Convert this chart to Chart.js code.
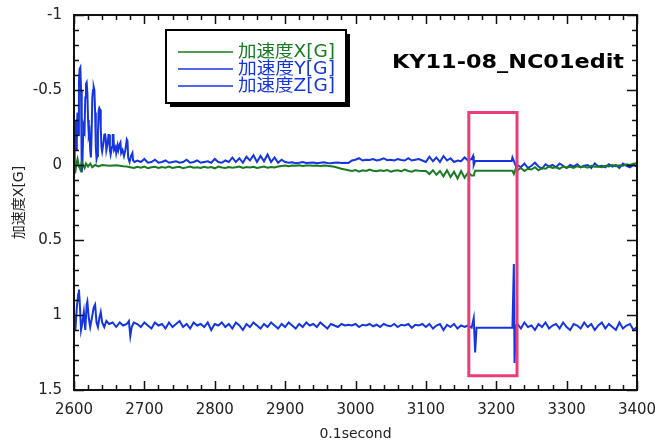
<!DOCTYPE html>
<html><head><meta charset="utf-8">
<script src="https://cdn.jsdelivr.net/npm/chart.js@4/dist/chart.umd.min.js"></script>
<style>html,body{margin:0;padding:0;background:#fff}#wrap{width:658px;height:443px}</style>
</head><body><div id="wrap"><canvas id="c" width="658" height="443"></canvas></div>
<script>
// ---------- DATA ----------
const seriesNames = ['加速度X[G]', '加速度Y[G]', '加速度Z[G]'];
const chartTitle = 'KY11-08_NC01edit';
const xTicks = [2600, 2700, 2800, 2900, 3000, 3100, 3200, 3300, 3400];
const yTicks = [-1, -0.5, 0, 0.5, 1, 1.5];
const highlightX = [3161, 3229.5];
const highlightY = [-0.35, 1.405];

// X series (green)
const accXEarlyT = [2600,2602,2604,2605,2607,2609,2611,2613,2615,2617,2620,2623,2626,2630,2635,2640,2650,2660,2670];
const accXEarlyV = [0.02,0.04,-0.02,-0.04,0.01,0.03,-0.02,0.0,0.02,-0.01,0.01,-0.01,0.015,0.0,0.01,0.0,0.005,0.002,0.008];
const accXMidStart = 2675;
const accXMidV = [0.01,0.015,0.02,0.012,0.018,0.01,0.022,0.015,0.012,0.02,0.014,0.018,0.01,0.02,0.015,0.012,0.022,0.016,0.01,0.018,0.015,0.02,0.012,0.018,0.014,0.022,0.01,0.016,0.02,0.013,0.018,0.015,0.01,0.02,0.014,0.017,0.012,0.02,0.015,0.01,0.018,0.013,0.016,
 0.01,0.006,0.004,0.008,0.003,0.005,0.002,0.006,0.004,0.003,0.005,0.004,0.006,0.003,0.005,0.008,0.012,0.018,0.025,
 0.03,0.035,0.04,0.033,0.045,0.035,0.04,0.03,0.038,0.042,0.035,0.04,0.033,0.045,0.038,0.035,0.042,0.03,0.04,0.045,0.035,0.038,0.04,
 0.04,0.06,0.035,0.065,0.04,0.075,0.035,0.08,0.045,0.09,0.04,0.085,0.05,0.07];
const accXGapT = [3168,3170,3223,3225,3228];
const accXGapV = [0.07,0.038,0.038,0.06,0.02];
const accXLateStart = 3230;
const accXLateV = [0.035,0.02,0.04,0.025,0.03,0.015,0.035,0.02,0.025,0.01,0.02,0.015,0.025,0.01,0.018,0.012,0.02,0.008,0.015,0.01,0.018,0.005,0.012,0.01,0.015,0.005,0.01,0.0,0.008,0.002,0.005,-0.005,0.0,-0.008,-0.012];

// Y series (blue, around 0)
const accYEarlyT = [2600,2601,2602,2603,2604,2605,2606,2607,2608,2609,2610,2611,2612,2613,2614,2615,2616,2617,2618,2619,2620,2621,2622,2623,2624,2625,2626,2627,2628,2629,2630,2631,2632,2633,2634,2635,2636,2637,2638,2639,2640,2642,2643,2644,2645,2646,2648,2649,2650,2651,2652,2654,2655,2656,2657,2659,2660,2662,2663,2665,2666,2667,2669,2671,2673,2675,2676,2677,2679,2681,2683,2684,2686];
const accYEarlyV = [0.04,-0.15,-0.3,-0.1,-0.25,-0.35,-0.2,-0.55,-0.64,-0.65,-0.5,0.05,-0.02,-0.2,-0.25,-0.23,-0.45,-0.54,-0.55,-0.48,-0.3,-0.2,-0.22,-0.1,-0.05,-0.2,-0.45,-0.5,-0.52,-0.5,-0.35,-0.12,-0.04,-0.06,-0.2,-0.36,-0.38,-0.37,-0.25,-0.12,-0.09,-0.15,-0.2,-0.21,-0.18,-0.1,-0.15,-0.2,-0.2,-0.1,-0.07,-0.12,-0.2,-0.2,-0.1,-0.12,-0.08,-0.13,-0.1,-0.14,-0.15,-0.08,-0.1,-0.06,-0.1,-0.17,-0.16,-0.05,-0.02,-0.06,-0.08,-0.03,-0.02];
const accYMidStart = 2690;
const accYMidV = [-0.03,-0.02,-0.04,-0.015,-0.02,-0.035,-0.015,-0.02,-0.03,-0.015,-0.02,-0.025,-0.015,-0.02,-0.035,-0.015,-0.02,-0.03,-0.015,-0.02,-0.025,-0.015,-0.04,-0.02,-0.015,-0.03,
 -0.02,-0.05,-0.02,-0.045,-0.015,-0.055,-0.03,-0.065,-0.02,-0.06,-0.025,-0.07,-0.02,-0.05,-0.015,-0.035,-0.02,
 -0.015,-0.018,-0.012,-0.015,-0.02,-0.013,-0.015,-0.017,-0.012,-0.015,-0.018,-0.014,-0.012,-0.015,-0.017,-0.013,-0.015,-0.014,
 -0.03,-0.035,-0.045,-0.03,-0.035,-0.033,-0.04,-0.03,-0.035,-0.045,-0.032,-0.035,-0.03,-0.04,-0.033,-0.03,-0.045,-0.03,-0.035,-0.04,-0.03,
 -0.02,-0.055,-0.025,-0.05,-0.02,-0.06,-0.03,-0.045,-0.02,-0.03,-0.025,-0.05,-0.03,-0.04];
const accYGapT = [3167,3168,3170,3222,3223,3225,3228];
const accYGapV = [-0.06,0.0,-0.027,-0.027,-0.05,-0.027,0.01];
const accYLateStart = 3230;
const accYLateV = [0.0,0.015,-0.01,0.02,0.005,-0.015,0.01,0.025,-0.005,0.01,0.0,0.015,-0.01,0.005,0.02,0.0,0.01,-0.005,0.015,0.005,0.0,0.02,-0.01,0.01,0.005,0.015,-0.005,0.01,0.0,0.02,-0.01,0.005,0.015,0.0,0.01];

// Z series (blue, around 1.07)
const accZEarlyT = [2600,2602,2604,2606,2607,2608,2610,2612,2614,2616,2618,2619,2621,2623,2625,2628,2630,2632,2634,2636,2638,2640,2643,2646,2650,2655,2660,2665,2670,2675,2678,2680,2682,2685];
const accZEarlyV = [1.0,1.1,0.95,0.86,0.83,0.9,1.1,1.05,0.98,1.1,0.93,0.91,1.02,1.08,1.03,0.95,0.93,1.05,1.08,1.02,0.98,1.05,1.08,1.04,1.06,1.05,1.08,1.05,1.07,1.06,1.04,1.14,1.08,1.05];
const accZMidStart = 2690;
const accZMidV = [1.06,1.08,1.05,1.07,1.09,1.05,1.07,1.06,1.09,1.05,1.08,1.06,1.04,1.08,1.06,1.09,1.05,1.07,1.06,1.08,1.05,1.1,1.06,1.07,1.05,1.08,
 1.06,1.09,1.05,1.07,1.1,1.06,1.08,1.05,1.07,1.09,1.06,1.08,1.05,1.07,1.09,1.06,1.08,
 1.05,1.07,1.09,1.06,1.08,1.05,1.07,1.06,1.08,1.05,1.07,1.09,1.06,1.07,1.08,1.06,1.07,1.065,
 1.07,1.06,1.08,1.065,1.07,1.06,1.075,1.065,1.08,1.06,1.07,1.075,1.06,1.08,1.065,1.07,1.06,1.085,1.065,1.07,1.06,
 1.08,1.06,1.09,1.07,1.06,1.1,1.065,1.08,1.06,1.09,1.07,1.08,1.07,1.085];
const accZGapT = [3168,3170,3172,3223,3225,3226,3228];
const accZGapV = [1.02,1.25,1.085,1.085,0.66,1.32,1.07];
const accZLateStart = 3230;
const accZLateV = [1.06,1.09,1.05,1.08,1.07,1.1,1.06,1.08,1.05,1.09,1.07,1.06,1.09,1.05,1.08,1.1,1.06,1.07,1.09,1.05,1.08,1.06,1.1,1.07,1.05,1.09,1.06,1.08,1.1,1.05,1.09,1.07,1.06,1.1,1.08];

const sampleStep = 5;
const colorGreen = '#187a22';
const colorBlue = '#1535e0';

// ---------- BUILD ----------
function build(eT, eV, mStart, mV, gT, gV, lStart, lV) {
  const pts = [];
  eT.forEach((t, i) => pts.push({x: t, y: eV[i]}));
  mV.forEach((v, i) => pts.push({x: mStart + i * sampleStep, y: v}));
  gT.forEach((t, i) => pts.push({x: t, y: gV[i]}));
  lV.forEach((v, i) => pts.push({x: lStart + i * sampleStep, y: v}));
  return pts;
}
const dataX = build(accXEarlyT, accXEarlyV, accXMidStart, accXMidV, accXGapT, accXGapV, accXLateStart, accXLateV);
const dataY = build(accYEarlyT, accYEarlyV, accYMidStart, accYMidV, accYGapT, accYGapV, accYLateStart, accYLateV);
const dataZ = build(accZEarlyT, accZEarlyV, accZMidStart, accZMidV, accZGapT, accZGapV, accZLateStart, accZLateV);

const font = "'DejaVu Sans', 'Noto Sans CJK JP', sans-serif";

const framePlugin = {
  id: 'frame',
  afterDatasetsDraw(chart) {
    const {ctx, chartArea: a, scales: {x, y}} = chart;
    ctx.save();
    const hx0 = x.getPixelForValue(highlightX[0]), hx1 = x.getPixelForValue(highlightX[1]);
    const hy0 = y.getPixelForValue(highlightY[0]), hy1 = y.getPixelForValue(highlightY[1]);
    ctx.strokeStyle = '#ec3c78';
    ctx.lineWidth = 3;
    ctx.strokeRect(hx0, hy0, hx1 - hx0, hy1 - hy0);
    ctx.strokeStyle = '#111';
    ctx.lineWidth = 1.5;
    ctx.beginPath();
    for (let v = 2600; v <= 3400; v += 20) {
      const px = Math.round(x.getPixelForValue(v)) + 0.5;
      const L = (v % 100 === 0) ? 9 : 5;
      ctx.moveTo(px, a.bottom); ctx.lineTo(px, a.bottom - L);
      ctx.moveTo(px, a.top); ctx.lineTo(px, a.top + L);
    }
    for (let k = -10; k <= 15; k++) {
      const v = k / 10;
      const py = Math.round(y.getPixelForValue(v)) + 0.5;
      const L = (k % 5 === 0) ? 10 : 5;
      ctx.moveTo(a.left, py); ctx.lineTo(a.left + L, py);
      ctx.moveTo(a.right, py); ctx.lineTo(a.right - L, py);
    }
    ctx.stroke();
    ctx.lineWidth = 2;
    ctx.strokeRect(a.left, a.top, a.right - a.left, a.bottom - a.top);
    // legend box
    const lx = 166, ly = 30, lw = 180, lh = 73;
    ctx.fillStyle = '#000';
    ctx.fillRect(lx + 4, ly + 4, lw, lh);
    ctx.fillStyle = '#fff';
    ctx.fillRect(lx, ly, lw, lh);
    ctx.strokeStyle = '#000';
    ctx.lineWidth = 2;
    ctx.strokeRect(lx, ly, lw, lh);
    const cols = [colorGreen, colorBlue, colorBlue];
    ctx.font = "17px " + font;
    ctx.textBaseline = 'middle';
    ctx.textAlign = 'left';
    seriesNames.forEach((n, i) => {
      const yy = 52 + i * 17;
      ctx.strokeStyle = cols[i];
      ctx.lineWidth = 1.5;
      ctx.beginPath(); ctx.moveTo(178, yy); ctx.lineTo(233, yy); ctx.stroke();
      ctx.fillStyle = cols[i];
      const tw = ctx.measureText(n).width;
      ctx.save();
      ctx.translate(238, yy + 1);
      ctx.scale(97 / tw, 1);
      ctx.fillText(n, 0, 0);
      ctx.restore();
    });
    // title
    ctx.fillStyle = '#000';
    ctx.font = "bold 20px " + font;
    const w = ctx.measureText(chartTitle).width;
    ctx.translate(392, 63);
    ctx.scale(232 / w, 1);
    ctx.fillText(chartTitle, 0, 0);
    ctx.restore();
  }
};

new Chart(document.getElementById('c'), {
  type: 'line',
  data: {
    datasets: [
      {label: seriesNames[0], data: dataX, borderColor: colorGreen, backgroundColor: colorGreen, borderWidth: 2},
      {label: seriesNames[1], data: dataY, borderColor: colorBlue, backgroundColor: colorBlue, borderWidth: 2},
      {label: seriesNames[2], data: dataZ, borderColor: colorBlue, backgroundColor: colorBlue, borderWidth: 2}
    ]
  },
  options: {
    responsive: false,
    animation: false,
    devicePixelRatio: 1,
    elements: {point: {radius: 0}, line: {tension: 0}},
    layout: {padding: {top: 15, right: 21, left: 0, bottom: 0}},
    plugins: {legend: {display: false}, tooltip: {enabled: false}},
    scales: {
      x: {
        type: 'linear', min: 2600, max: 3400,
        afterBuildTicks: s => { s.ticks = xTicks.map(v => ({value: v})); },
        afterFit: s => { s.height = 53; s.paddingLeft = 0; s.paddingRight = 0; },
        grid: {display: false, drawTicks: false},
        border: {display: false},
        ticks: {color: '#222', font: {family: font, size: 15}, padding: 11, maxRotation: 0, callback: v => String(v)},
        title: {display: true, text: '0.1second', color: '#222', font: {family: font, size: 14}, padding: {top: 1, bottom: 0}}
      },
      y: {
        type: 'linear', min: -1, max: 1.5, reverse: true,
        afterBuildTicks: s => { s.ticks = yTicks.map(v => ({value: v})); },
        afterFit: s => { s.width = 74; s.paddingTop = 0; s.paddingBottom = 0; },
        grid: {display: false, drawTicks: false},
        border: {display: false},
        ticks: {color: '#222', font: {family: font, size: 15}, padding: 12, callback: v => String(v)},
        title: {display: true, text: '加速度X[G]', color: '#222', font: {family: font, size: 14}, padding: {top: 11, bottom: 0}}
      }
    }
  },
  plugins: [framePlugin]
});
</script>
</body></html>
